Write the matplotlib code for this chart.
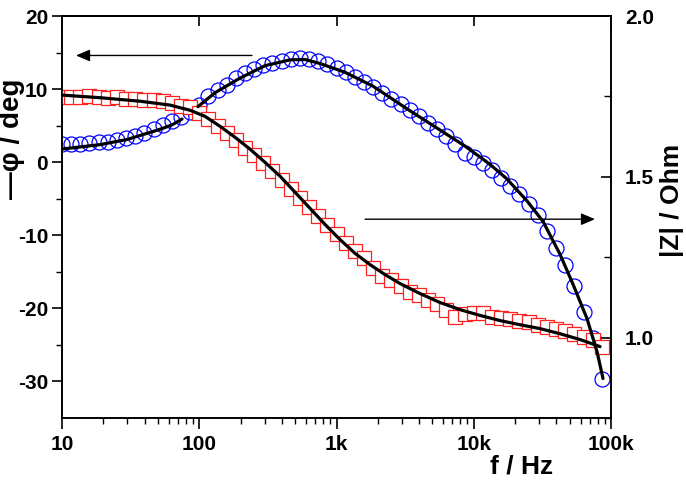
import numpy as np
import matplotlib
matplotlib.use('Agg')
import matplotlib.pyplot as plt
from matplotlib.ticker import FixedLocator, NullFormatter, NullLocator

# ---------------- data ----------------
freq = [10, 11.66, 13.59, 15.85, 18.48, 21.54, 25.12, 29.29, 34.15, 39.81,
        46.42, 54.12, 63.10, 73.56, 85.77, 100, 116.6, 135.9, 158.5, 184.8,
        215.4, 251.2, 292.9, 341.5, 398.1, 464.2, 541.2, 631.0, 735.6, 857.7,
        1000, 1166, 1359, 1585, 1848, 2154, 2512, 2929, 3415, 3981,
        4642, 5412, 6310, 7356, 8577, 10000, 11660, 13590, 15850, 18480,
        21540, 25120, 29290, 34150, 39810, 46420, 54120, 63100, 73560, 85770]

phase = [2.5, 2.5, 2.5, 2.6, 2.7, 2.8, 3.0, 3.3, 3.6, 4.0,
         4.5, 5.1, 5.6, 6.2, 6.9, 7.8, 9.0, 9.9, 10.6, 11.5,
         12.2, 12.8, 13.3, 13.6, 13.9, 14.1, 14.2, 14.1, 13.8, 13.4,
         12.9, 12.4, 11.7, 11.0, 10.3, 9.5, 8.7, 8.0, 7.2, 6.3,
         5.4, 4.6, 3.6, 2.5, 1.2, 0.7, -0.1, -1.1, -2.2, -3.3,
         -4.4, -5.7, -7.2, -9.4, -11.8, -14.0, -16.9, -20.5, -24.0, -29.6]

zmod = [1.748, 1.748, 1.748, 1.751, 1.748, 1.745, 1.748, 1.741, 1.741, 1.738,
        1.738, 1.735, 1.729, 1.720, 1.717, 1.698, 1.679, 1.657, 1.636, 1.614,
        1.589, 1.567, 1.542, 1.517, 1.489, 1.461, 1.433, 1.405, 1.377, 1.349,
        1.321, 1.293, 1.268, 1.246, 1.215, 1.193, 1.178, 1.159, 1.143, 1.131,
        1.118, 1.103, 1.087, 1.065, 1.072, 1.075, 1.075, 1.065, 1.062, 1.059,
        1.053, 1.047, 1.040, 1.034, 1.028, 1.019, 1.012, 1.003, 0.994, 0.972]

# fitted curves
fit_phase_f_lo = [10, 18.9, 29.8, 51.8, 63.3, 74.9]
fit_phase_lo = [1.8, 2.4, 3.1, 4.5, 5.1, 5.9]
fit_phase_f_hi = [97.9, 130.2, 198.1, 301.4, 458.5, 589.6, 758.2, 1153, 1845, 3264,
                  5677, 8636, 13137, 17470, 24434, 31954, 42509, 52870, 66870, 79070, 87450]
fit_phase_hi = [7.6, 9.5, 11.5, 13.2, 14.0, 14.05, 13.5, 12.3, 10.4, 7.3,
                4.4, 2.2, -0.3, -2.3, -5.3, -8.1, -12.6, -16.7, -21.4, -25.9, -29.6]

fit_z_f = [10, 18.9, 37.0, 61.2, 85.6, 110.1, 141.7, 182.2, 234.3, 301.4,
           387.6, 498.6, 641.2, 824.6, 1060, 1364, 1754, 2256, 2902, 4059,
           5677, 7940, 11106, 15535, 21727, 30390, 42509, 59450, 83180]
fit_z = [1.754, 1.746, 1.735, 1.723, 1.707, 1.688, 1.657, 1.623, 1.586, 1.545,
         1.502, 1.452, 1.402, 1.352, 1.305, 1.262, 1.227, 1.196, 1.168, 1.137,
         1.109, 1.087, 1.069, 1.053, 1.040, 1.028, 1.012, 0.994, 0.972]

xticks = [10, 100, 1000, 10000, 100000]
xticklabels = ['10', '100', '1k', '10k', '100k']
left_ticks = [-30, -20, -10, 0, 10, 20]
left_minor = [-25, -15, -5, 5, 15]
right_ticks = [1.0, 1.5, 2.0]
right_minor = [0.75, 1.25, 1.75]

# ---------------- style ----------------
plt.rcParams['font.family'] = ['Liberation Sans', 'DejaVu Sans']
plt.rcParams['font.weight'] = 'bold'
plt.rcParams['axes.linewidth'] = 1.2
plt.rcParams['axes.unicode_minus'] = False

W, H = 686, 482
fig = plt.figure(figsize=(W / 100, H / 100), dpi=100)
L, R, T, B = 62, 611, 16, 418
ax = fig.add_axes([L / W, 1 - B / H, (R - L) / W, (B - T) / H])
ax2 = ax.twinx()

# phase data (left axis)
ax.plot(freq, phase, linestyle='none', marker='o', markersize=10.8,
        markerfacecolor='none', markeredgecolor='#0000ff', markeredgewidth=0.9, zorder=2)

# |Z| data (right axis)
ax2.plot(freq, zmod, linestyle='none', marker='s', markersize=9.8,
         markerfacecolor='white', markeredgecolor='#ff2020', markeredgewidth=0.9, zorder=2)
ax2.plot(fit_z_f, fit_z, color='black', lw=2.3, zorder=4, solid_capstyle='round',
         solid_joinstyle='round')
ax2.plot(fit_phase_f_lo, fit_phase_lo, color='black', lw=2.3, zorder=4,
         transform=ax.transData, solid_capstyle='round', solid_joinstyle='round')
ax2.plot(fit_phase_f_hi, fit_phase_hi, color='black', lw=2.3, zorder=4,
         transform=ax.transData, solid_capstyle='round', solid_joinstyle='round')

ax.set_xscale('log')
ax.set_xlim(10, 100000)
ax.set_ylim(-35, 20)
ax2.set_ylim(0.75, 2.0)

# x ticks
ax.xaxis.set_major_locator(FixedLocator(xticks))
ax.set_xticklabels(xticklabels)
minors = [m * d for d in [10, 100, 1000, 10000] for m in range(2, 10)]
ax.xaxis.set_minor_locator(FixedLocator(minors))
ax.xaxis.set_minor_formatter(NullFormatter())
ax.tick_params(axis='x', which='major', direction='out', length=8, width=1.2,
               labelsize=15, pad=4)
ax.tick_params(axis='x', which='minor', direction='out', length=4, width=1.0)

sec = ax.secondary_xaxis('top')
sec.set_xticks(xticks)
sec.xaxis.set_minor_locator(NullLocator())
sec.tick_params(axis='x', which='major', direction='in', length=7, width=1.2,
                labeltop=False)
sec.spines['top'].set_linewidth(1.2)

# left y
ax.yaxis.set_major_locator(FixedLocator(left_ticks))
ax.yaxis.set_minor_locator(FixedLocator(left_minor))
ax.set_yticklabels([str(v) for v in left_ticks])
ax.tick_params(axis='y', which='major', direction='out', length=7, width=1.2,
               labelsize=15, pad=3)
ax.tick_params(axis='y', which='minor', direction='out', length=4, width=1.0)

# right y
ax2.yaxis.set_major_locator(FixedLocator(right_ticks))
ax2.yaxis.set_minor_locator(FixedLocator(right_minor))
ax2.set_yticklabels(['1.0', '1.5', '2.0'])
ax2.tick_params(axis='y', which='major', direction='in', length=7, width=1.2,
                labelsize=15, pad=10)
ax2.tick_params(axis='y', which='minor', direction='in', length=5, width=1.0)

for a in (ax, ax2):
    for s in a.spines.values():
        s.set_linewidth(1.2)

# arrows
ax.annotate('', xy=(12.65, 14.6), xytext=(242, 14.6),
            arrowprops=dict(arrowstyle='-|>,head_length=0.7,head_width=0.3',
                            color='black', lw=1.0, mutation_scale=12,
                            shrinkA=0, shrinkB=0))
ax.annotate('', xy=(76450, -7.8), xytext=(1614, -7.8),
            arrowprops=dict(arrowstyle='-|>,head_length=0.7,head_width=0.3',
                            color='black', lw=1.0, mutation_scale=12,
                            shrinkA=0, shrinkB=0))

# labels
fig.text(12 / W, 1 - 139 / H, '\u2014\u03c6 / deg', rotation=90, fontsize=20,
         fontweight='bold', ha='center', va='center')
fig.text(672 / W, 1 - 200 / H, '|Z| / Ohm', rotation=90, fontsize=19,
         fontweight='bold', ha='center', va='center')
fig.text(522 / W, 1 - 466 / H, 'f / Hz', fontsize=19, fontweight='bold',
         ha='center', va='center')

fig.savefig('out.png', dpi=100)
